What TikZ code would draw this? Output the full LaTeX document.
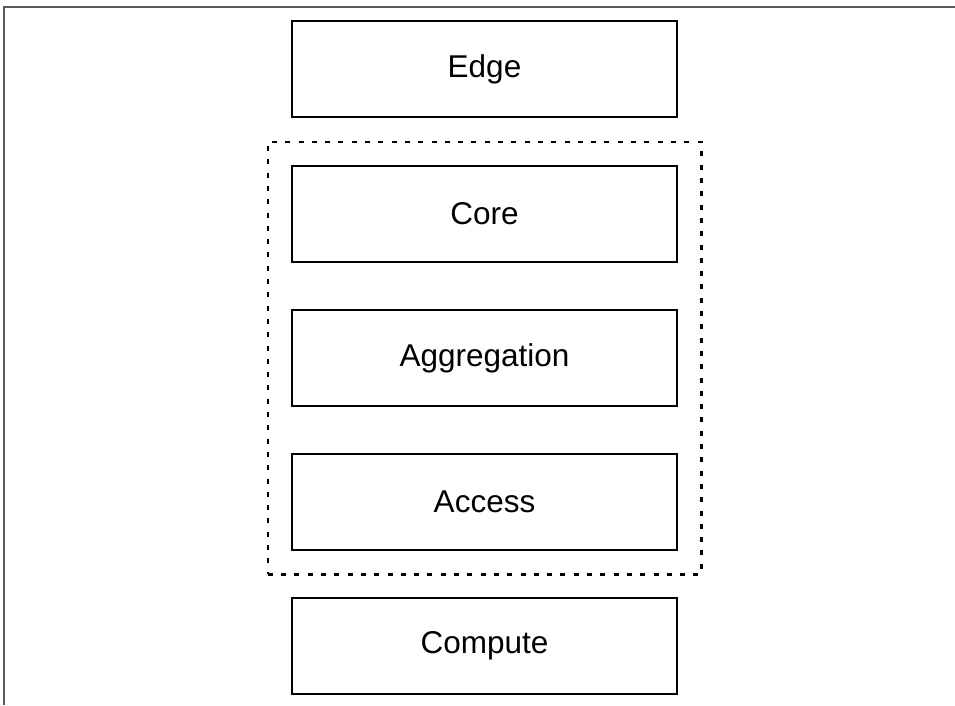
\documentclass[tikz,border=0pt]{standalone}
\usepackage{fontspec}
\setmainfont{Liberation Sans}
\usetikzlibrary{fit}
\begin{document}
\begin{tikzpicture}[x=1pt,y=-1pt,
  layer/.style={draw, line width=2.4pt, minimum width=385pt, minimum height=96pt,
    inner sep=0pt, font=\fontsize{31.5}{36}\selectfont},
  group/.style={draw, line width=2.6pt, dash pattern=on 5pt off 8.3pt, inner sep=23pt},
  frame/.style={line width=2pt, draw=black!65}]
  \useasboundingbox (0,0) rectangle (955,705);
  % page frame
  \coordinate (fb) at (4,705);
  \coordinate (fc) at (4,6.5);
  \coordinate (fr) at (955,6.5);
  \draw[frame] (fb) -- (fc) -- (fr);
  % layers
  \node[layer] (edge) at (484.5,69) {Edge};
  \node[layer] (core) at (484.5,214) {Core};
  \node[layer] (agg) at (484.5,358) {Aggregation};
  \node[layer] (access) at (484.5,502) {Access};
  \node[layer] (compute) at (484.5,646) {Compute};
  % grouping of the three switching tiers
  \node[group, fit=(core) (access)] (tiers) {};
\end{tikzpicture}
\end{document}
